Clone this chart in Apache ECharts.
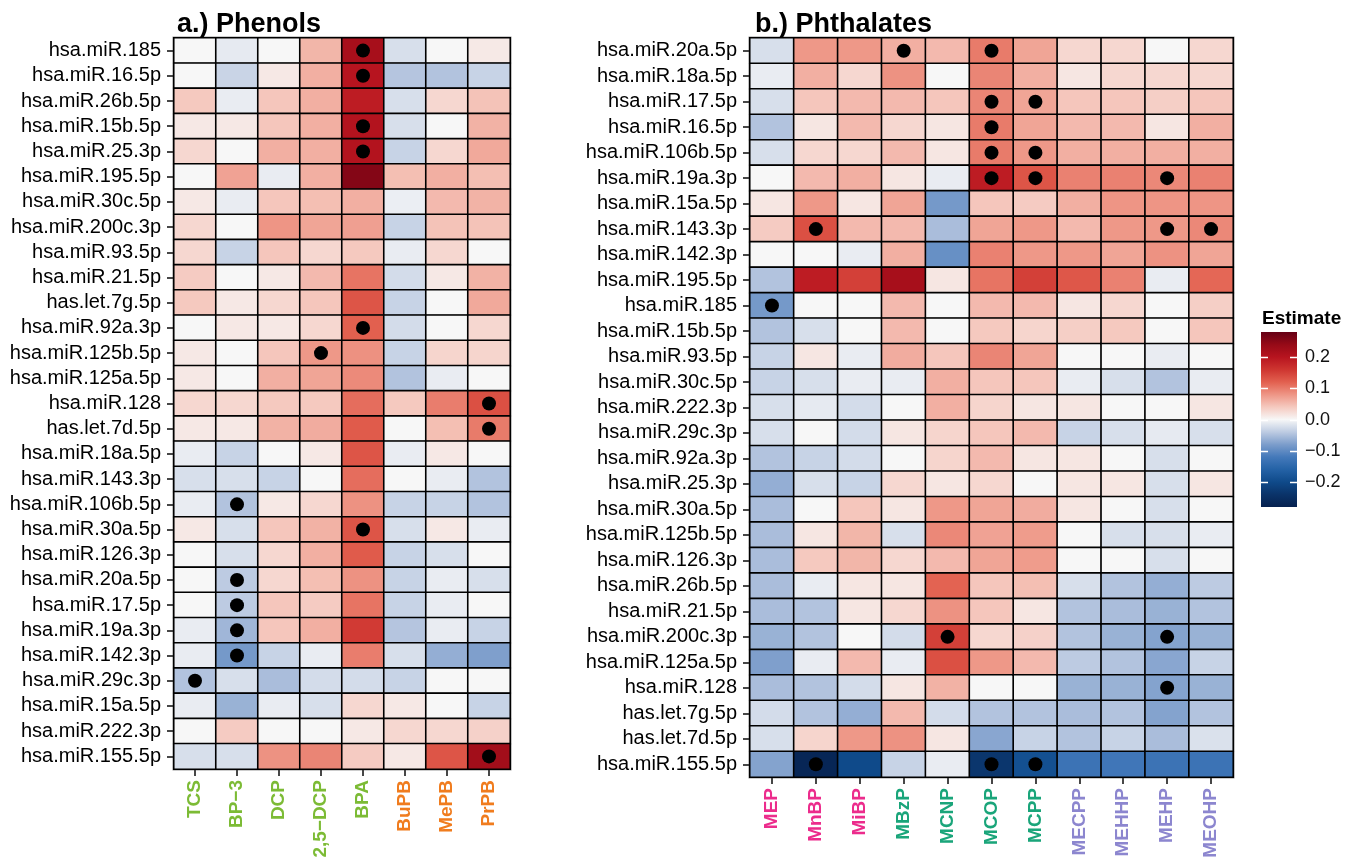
<!DOCTYPE html>
<html>
<head>
<meta charset="utf-8">
<script src="https://cdn.jsdelivr.net/npm/echarts@6/dist/echarts.min.js"></script>
<style>html,body{margin:0;padding:0;background:#fff}#c{width:1359px;height:867px}</style>
</head>
<body>
<div id="c"></div>
<script>
// ---------- Panel a: Phenols ----------
const rowsA = ['hsa.miR.185','hsa.miR.16.5p','hsa.miR.26b.5p','hsa.miR.15b.5p','hsa.miR.25.3p','hsa.miR.195.5p','hsa.miR.30c.5p','hsa.miR.200c.3p','hsa.miR.93.5p','hsa.miR.21.5p','has.let.7g.5p','hsa.miR.92a.3p','hsa.miR.125b.5p','hsa.miR.125a.5p','hsa.miR.128','has.let.7d.5p','hsa.miR.18a.5p','hsa.miR.143.3p','hsa.miR.106b.5p','hsa.miR.30a.5p','hsa.miR.126.3p','hsa.miR.20a.5p','hsa.miR.17.5p','hsa.miR.19a.3p','hsa.miR.142.3p','hsa.miR.29c.3p','hsa.miR.15a.5p','hsa.miR.222.3p','hsa.miR.155.5p'];
const colsA = ['TCS','BP\u22123','DCP','2,5\u2212DCP','BPA','BuPB','MePB','PrPB'];
const colColorsA = ['#7cbb35','#7cbb35','#7cbb35','#7cbb35','#7cbb35','#f07c1e','#f07c1e','#f07c1e'];
const TCS   = [0,0,0.04,0.013,0.028,0,0.013,0.028,0.028,0.038,0.04,0,0.013,0.013,0.028,0.013,-0.01,-0.022,-0.01,0.013,0,0,0,-0.01,-0.01,-0.047,-0.01,0,-0.022];
const BP3   = [-0.012,-0.032,-0.01,0.013,0,0.07,-0.01,0,-0.033,0,0.013,0.013,0,0,0.028,0.013,-0.033,-0.022,-0.047,-0.022,-0.022,-0.04,-0.04,-0.058,-0.085,-0.022,-0.062,0.038,-0.022];
const DCP   = [0,0.013,0.042,0.042,0.06,-0.01,0.042,0.08,0.042,0.013,0.028,0.013,0.042,0.06,0.04,0.058,0,-0.033,0.013,0.042,0.028,0.028,0.042,0.042,-0.033,-0.052,-0.01,0,0.082];
const DCP25 = [0.055,0.06,0.06,0.06,0.06,0.06,0.048,0.068,0.028,0.052,0.042,0.028,0.078,0.068,0.04,0.062,0.013,0,0.028,0.058,0.06,0.048,0.038,0.06,-0.01,-0.025,-0.022,0,0.092];
const BPA   = [0.22,0.2,0.19,0.205,0.205,0.255,0.06,0.072,0.04,0.105,0.13,0.12,0.083,0.088,0.11,0.125,0.13,0.11,0.082,0.13,0.125,0.082,0.105,0.155,0.098,-0.025,0.028,0.013,0.038];
const BuPB  = [-0.022,-0.045,-0.022,-0.022,-0.033,0.048,-0.008,-0.033,-0.01,-0.025,-0.033,-0.025,-0.033,-0.047,0.04,0,-0.01,0,-0.033,-0.022,-0.033,-0.033,-0.033,-0.045,-0.022,-0.033,0.013,0.028,0.013];
const MePB  = [0,-0.047,0.028,0,0.028,0.06,0.052,0.045,0.028,0.013,0,0,0.03,-0.01,0.098,0.048,0.013,-0.01,-0.033,0.013,-0.022,-0.01,-0.01,-0.01,-0.065,0,0,0.028,0.13];
const PrPB  = [0.012,-0.033,0.045,0.058,0.065,0.048,0.057,0.045,0,0.058,0.065,0.028,0.03,0,0.135,0.1,0,-0.047,-0.047,-0.01,0,-0.022,0,-0.033,-0.078,0,-0.033,0.033,0.225];
const sigA = [['BPA','hsa.miR.185'],['BPA','hsa.miR.16.5p'],['BPA','hsa.miR.15b.5p'],['BPA','hsa.miR.25.3p'],['BPA','hsa.miR.92a.3p'],['2,5\u2212DCP','hsa.miR.125b.5p'],['PrPB','hsa.miR.128'],['PrPB','has.let.7d.5p'],['BP\u22123','hsa.miR.106b.5p'],['BPA','hsa.miR.30a.5p'],['BP\u22123','hsa.miR.20a.5p'],['BP\u22123','hsa.miR.17.5p'],['BP\u22123','hsa.miR.19a.3p'],['BP\u22123','hsa.miR.142.3p'],['TCS','hsa.miR.29c.3p'],['PrPB','hsa.miR.155.5p']];

// ---------- Panel b: Phthalates ----------
const rowsB = ['hsa.miR.20a.5p','hsa.miR.18a.5p','hsa.miR.17.5p','hsa.miR.16.5p','hsa.miR.106b.5p','hsa.miR.19a.3p','hsa.miR.15a.5p','hsa.miR.143.3p','hsa.miR.142.3p','hsa.miR.195.5p','hsa.miR.185','hsa.miR.15b.5p','hsa.miR.93.5p','hsa.miR.30c.5p','hsa.miR.222.3p','hsa.miR.29c.3p','hsa.miR.92a.3p','hsa.miR.25.3p','hsa.miR.30a.5p','hsa.miR.125b.5p','hsa.miR.126.3p','hsa.miR.26b.5p','hsa.miR.21.5p','hsa.miR.200c.3p','hsa.miR.125a.5p','hsa.miR.128','has.let.7g.5p','has.let.7d.5p','hsa.miR.155.5p'];
const colsB = ['MEP','MnBP','MiBP','MBzP','MCNP','MCOP','MCPP','MECPP','MEHHP','MEHP','MEOHP'];
const colColorsB = ['#ec2c8c','#ec2c8c','#ec2c8c','#1aa57a','#1aa57a','#1aa57a','#1aa57a','#8c86cf','#8c86cf','#8c86cf','#8c86cf'];
const MEP   = [-0.022,-0.01,-0.022,-0.047,-0.022,0,0.015,0.038,0,-0.047,-0.085,-0.047,-0.033,-0.033,-0.022,-0.022,-0.047,-0.065,-0.052,-0.052,-0.052,-0.052,-0.052,-0.062,-0.078,-0.052,-0.025,-0.022,-0.075];
const MnBP  = [0.078,0.06,0.042,0.015,0.028,0.052,0.078,0.135,0,0.19,0,-0.022,0.015,-0.022,-0.012,0,-0.033,-0.022,0,0.015,0.04,-0.01,-0.047,-0.047,-0.01,-0.047,-0.047,0.03,-0.27];
const MiBP  = [0.078,0.028,0.052,0.052,0.028,0.06,0.015,0.052,-0.01,0.15,0,0,-0.01,-0.01,-0.025,-0.025,-0.025,-0.033,0.042,0.055,0.055,0.015,0.015,0,0.052,-0.025,-0.065,0.078,-0.2];
const MBzP  = [0.06,0.082,0.052,0.028,0.052,0.015,0.068,0.052,0.06,0.22,0.052,0.052,0.062,-0.01,0,0.015,0,0.028,0.015,-0.022,0.028,0.015,0.028,-0.025,-0.01,0.015,0.052,0.082,-0.033];
const MCNP  = [0.052,0,0.042,0.015,0.015,-0.01,-0.085,-0.052,-0.095,0.015,0,0,0.042,0.06,0.06,0.03,0.03,0.015,0.078,0.09,0.052,0.118,0.082,0.15,0.135,0.058,-0.025,0.015,-0.01];
const MCOP  = [0.1,0.092,0.092,0.1,0.1,0.19,0.042,0.068,0.095,0.105,0.052,0.04,0.092,0.042,0.03,0.042,0.052,0.028,0.068,0.07,0.068,0.042,0.042,0.028,0.078,0,-0.047,-0.072,-0.235];
const MCPP  = [0.068,0.06,0.068,0.068,0.078,0.13,0.038,0.078,0.078,0.15,0.052,0.03,0.068,0.042,0.015,0.052,0.015,0,0.062,0.075,0.075,0.048,0.015,0.033,0.052,0,-0.047,-0.033,-0.19];
const MECPP = [0.028,0.015,0.042,0.052,0.06,0.095,0.06,0.052,0.078,0.128,0.015,0.035,0,-0.01,0.015,-0.033,0.015,0.015,0.015,0,0,-0.022,-0.047,-0.047,-0.04,-0.062,-0.052,-0.047,-0.13];
const MEHHP = [0.028,0.028,0.042,0.052,0.06,0.095,0.08,0.078,0.068,0.095,0.028,0.04,0,-0.022,0,-0.022,0,0.015,0,-0.022,0,-0.047,-0.052,-0.062,-0.047,-0.062,-0.047,-0.033,-0.125];
const MEHP  = [0,0.028,0.035,0.015,0.06,0.09,0.08,0.078,0.082,-0.01,0,0,-0.01,-0.047,0,-0.012,-0.022,-0.022,-0.022,-0.022,-0.022,-0.065,-0.062,-0.075,-0.072,-0.075,-0.075,-0.052,-0.13];
const MEOHP = [0.028,0.028,0.042,0.06,0.06,0.095,0.08,0.09,0.068,0.115,0.035,0.042,0,-0.01,0.015,-0.022,0,0.015,0,-0.01,0,-0.04,-0.047,-0.062,-0.033,-0.062,-0.047,-0.02,-0.13];
const sigB = [['MBzP','hsa.miR.20a.5p'],['MCOP','hsa.miR.20a.5p'],['MCOP','hsa.miR.17.5p'],['MCPP','hsa.miR.17.5p'],['MCOP','hsa.miR.16.5p'],['MCOP','hsa.miR.106b.5p'],['MCPP','hsa.miR.106b.5p'],['MCOP','hsa.miR.19a.3p'],['MCPP','hsa.miR.19a.3p'],['MEHP','hsa.miR.19a.3p'],['MnBP','hsa.miR.143.3p'],['MEHP','hsa.miR.143.3p'],['MEOHP','hsa.miR.143.3p'],['MEP','hsa.miR.185'],['MCNP','hsa.miR.200c.3p'],['MEHP','hsa.miR.200c.3p'],['MEHP','hsa.miR.128'],['MnBP','hsa.miR.155.5p'],['MCOP','hsa.miR.155.5p'],['MCPP','hsa.miR.155.5p']];

// ---------- Colour scale ----------
const scaleMin = -0.28, scaleMax = 0.28;
const palette = ['#06214f','#0a3369','#0f4a8a','#2462a6','#4479ba','#7c9dcb','#bdcbe2','#f7f7f7','#f5c9bf','#ee9585','#e2604f','#ce3530','#b7141f','#960a17','#650015'];
const legendTicks = [0.2, 0.1, 0.0, -0.1, -0.2];
const legendLabels = ['0.2','0.1','0.0','\u22120.1','\u22120.2'];

// ---------- build ----------
const colsDataA = [TCS, BP3, DCP, DCP25, BPA, BuPB, MePB, PrPB];
const colsDataB = [MEP, MnBP, MiBP, MBzP, MCNP, MCOP, MCPP, MECPP, MEHHP, MEHP, MEOHP];
function heat(cols){ const d=[]; cols.forEach((arr,ci)=>arr.forEach((v,ri)=>d.push([ci,ri,v]))); return d; }

const chart = echarts.init(document.getElementById('c'), null, {renderer:'canvas'});
const FONT = 'Liberation Sans, Arial, Helvetica, sans-serif';

function xAxisFor(gi, cols, colors){
  return {
    type:'category', gridIndex:gi, data:cols, position:'bottom',
    axisLine:{show:false},
    axisTick:{show:true, interval:0, alignWithLabel:true, length:7, lineStyle:{color:'#333', width:1.8}},
    axisLabel:{interval:0, hideOverlap:false, rotate:90, margin:11, fontSize:19, fontWeight:'bold', fontFamily:FONT,
      color:(v)=>colors[cols.indexOf(v)]},
    splitLine:{show:false}
  };
}
function yAxisFor(gi, rows){
  return {
    type:'category', gridIndex:gi, data:rows, inverse:true,
    axisLine:{show:false},
    axisTick:{show:true, interval:0, alignWithLabel:true, length:7, lineStyle:{color:'#333', width:1.8}},
    axisLabel:{interval:0, hideOverlap:false, margin:13, fontSize:20, lineHeight:20, color:'#000', fontFamily:FONT},
    splitLine:{show:false}
  };
}

const barX = 1261, barY = 332, barW = 36, barH = 175;
const yOf = v => barY + (scaleMax - v)/(scaleMax - scaleMin)*barH;
const graphics = [
  {type:'rect', shape:{x:barX, y:barY, width:barW, height:barH},
   style:{fill:new echarts.graphic.LinearGradient(0,0,0,1, palette.slice().reverse().map((c,i,a)=>({offset:i/(a.length-1), color:c})))}},
  {type:'text', left:1262, top:309, style:{text:'Estimate', font:'bold 19px '+FONT, fill:'#000'}}
];
legendTicks.forEach((v,i)=>{
  const y = Math.round(yOf(v))+0.5;
  graphics.push({type:'line', shape:{x1:barX, y1:y, x2:barX+7, y2:y}, style:{stroke:'#fff', lineWidth:1.5}});
  graphics.push({type:'line', shape:{x1:barX+barW-7, y1:y, x2:barX+barW, y2:y}, style:{stroke:'#fff', lineWidth:1.5}});
  graphics.push({type:'text', x:barX+barW+8, y:y, style:{text:legendLabels[i], font:'18px '+FONT, fill:'#111', textVerticalAlign:'middle', verticalAlign:'middle'}});
});

const option = {
  animation:false,
  backgroundColor:'#fff',
  title:[
    {text:'a.) Phenols', left:172, top:6, textStyle:{fontSize:27, fontWeight:'bold', color:'#000', fontFamily:FONT}},
    {text:'b.) Phthalates', left:750, top:6, textStyle:{fontSize:27, fontWeight:'bold', color:'#000', fontFamily:FONT}}
  ],
  grid:[
    {left:174, top:38, width:336, height:731, show:true, borderColor:'#9a9a9a', borderWidth:3, backgroundColor:'transparent'},
    {left:750, top:38, width:483, height:739, show:true, borderColor:'#9a9a9a', borderWidth:3, backgroundColor:'transparent'}
  ],
  xAxis:[xAxisFor(0, colsA, colColorsA), xAxisFor(1, colsB, colColorsB)],
  yAxis:[yAxisFor(0, rowsA), yAxisFor(1, rowsB)],
  visualMap:{type:'continuous', show:false, min:scaleMin, max:scaleMax, seriesIndex:[0,2], dimension:2, inRange:{color:palette}},
  series:[
    {type:'heatmap', xAxisIndex:0, yAxisIndex:0, data:heat(colsDataA),
     itemStyle:{borderColor:'#000', borderWidth:1.6}, emphasis:{disabled:true}},
    {type:'scatter', xAxisIndex:0, yAxisIndex:0, data:sigA, symbol:'circle', symbolSize:14,
     itemStyle:{color:'#000', opacity:1}, z:5, emphasis:{disabled:true}},
    {type:'heatmap', xAxisIndex:1, yAxisIndex:1, data:heat(colsDataB),
     itemStyle:{borderColor:'#000', borderWidth:1.6}, emphasis:{disabled:true}},
    {type:'scatter', xAxisIndex:1, yAxisIndex:1, data:sigB, symbol:'circle', symbolSize:14,
     itemStyle:{color:'#000', opacity:1}, z:5, emphasis:{disabled:true}}
  ],
  graphic:graphics
};
chart.setOption(option);
</script>
</body>
</html>
